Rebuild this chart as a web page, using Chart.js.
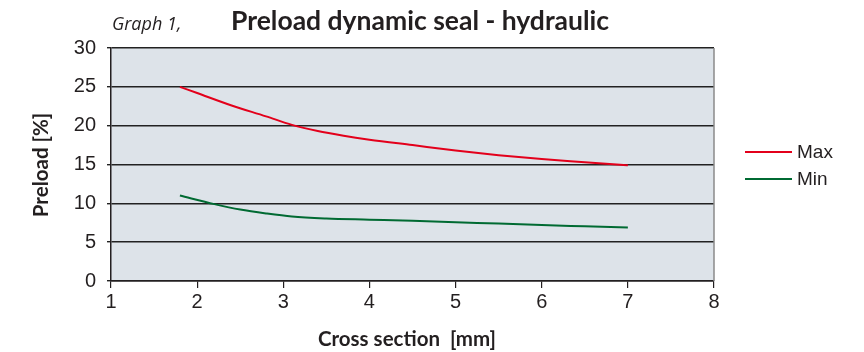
<!DOCTYPE html>
<html>
<head>
<meta charset="utf-8">
<script src="https://cdn.jsdelivr.net/npm/chart.js@4/dist/chart.umd.min.js"></script>
<style>
  html, body { margin: 0; padding: 0; background: #ffffff; }
  #wrap { position: relative; width: 864px; height: 352px; }
</style>
</head>
<body>
<div id="wrap"><canvas id="c" width="864" height="352"></canvas></div>
<script>
// Cross section [mm] and preload [%] for the dynamic hydraulic seal
const maxCrossSection = [1.8, 2.0, 2.4, 2.8, 3.1, 3.4, 3.7, 4.0, 4.5, 5.0, 5.5, 6.0, 6.5, 7.0];
const maxPreload      = [25.0, 24.2, 22.6, 21.2, 20.1, 19.3, 18.7, 18.2, 17.5, 16.8, 16.2, 15.7, 15.3, 14.9];

const minCrossSection = [1.8, 2.2, 2.5, 2.8, 3.1, 3.5, 4.0, 4.5, 5.0, 5.5, 6.0, 6.5, 7.0];
const minPreload      = [11.0, 9.9, 9.2, 8.7, 8.3, 8.05, 7.9, 7.75, 7.55, 7.4, 7.2, 7.05, 6.9];

const seriesNames = ['Max', 'Min'];
const xTicks = [1, 2, 3, 4, 5, 6, 7, 8];
const yTicks = [0, 5, 10, 15, 20, 25, 30];

const titleText = 'Preload dynamic seal - hydraulic';
const captionText = 'Graph 1,';
const xTitleText = 'Cross section  [mm]';
const yTitleText = 'Preload [%]';

const toPoints = (xs, ys) => xs.map((x, i) => ({ x: x, y: ys[i] }));

const TICK_FONT = { family: '"Liberation Sans", Arial, sans-serif', size: 20 };
const INK = '#231f20';

// Plot background, frame, titles and legend
const decorations = {
  id: 'decorations',
  beforeDraw(chart) {
    const { ctx, chartArea: a } = chart;
    ctx.save();
    ctx.fillStyle = '#dde3e9';
    ctx.fillRect(a.left, a.top, a.right - a.left, a.bottom - a.top);
    ctx.restore();
  },
  afterDraw(chart) {
    const { ctx, chartArea: a } = chart;
    ctx.save();
    // right frame edge
    ctx.strokeStyle = '#8a8a8a';
    ctx.lineWidth = 1.5;
    ctx.beginPath();
    ctx.moveTo(a.right, a.top);
    ctx.lineTo(a.right, a.bottom);
    ctx.stroke();

    ctx.fillStyle = INK;
    ctx.textBaseline = 'alphabetic';
    // caption + main title
    ctx.font = 'italic 18px "Open Sans", sans-serif';
    ctx.textAlign = 'left';
    ctx.fillText(captionText, 112, 30);
    ctx.font = 'bold 26.5px Lato, sans-serif';
    ctx.fillText(titleText, 231, 30);

    // x axis title
    ctx.font = 'bold 20.5px Lato, sans-serif';
    ctx.textAlign = 'center';
    ctx.fillText(xTitleText, 407, 346);

    // y axis title
    ctx.save();
    ctx.translate(48, 165);
    ctx.rotate(-Math.PI / 2);
    ctx.fillText(yTitleText, 0, 0);
    ctx.restore();

    // legend
    ctx.textAlign = 'left';
    ctx.textBaseline = 'middle';
    ctx.font = '19px "Liberation Sans", Arial, sans-serif';
    chart.data.datasets.forEach((ds, i) => {
      const y = 152 + i * 27;
      ctx.strokeStyle = ds.borderColor;
      ctx.lineWidth = 2;
      ctx.beginPath();
      ctx.moveTo(745, y);
      ctx.lineTo(792, y);
      ctx.stroke();
      ctx.fillStyle = INK;
      ctx.fillText(ds.label, 797, y + 1);
    });
    ctx.restore();
  }
};

new Chart(document.getElementById('c'), {
  type: 'line',
  data: {
    datasets: [
      {
        label: seriesNames[0],
        data: toPoints(maxCrossSection, maxPreload),
        borderColor: '#e3001b',
        borderWidth: 2,
        pointRadius: 0,
        cubicInterpolationMode: 'monotone',
        fill: false
      },
      {
        label: seriesNames[1],
        data: toPoints(minCrossSection, minPreload),
        borderColor: '#006a32',
        borderWidth: 2,
        pointRadius: 0,
        cubicInterpolationMode: 'monotone',
        fill: false
      }
    ]
  },
  options: {
    responsive: false,
    animation: false,
    devicePixelRatio: 1,
    layout: { padding: { top: 48, right: 150, left: 0, bottom: 0 } },
    plugins: {
      legend: { display: false },
      title: { display: false },
      tooltip: { enabled: false }
    },
    scales: {
      x: {
        type: 'linear',
        min: xTicks[0],
        max: xTicks[xTicks.length - 1],
        afterBuildTicks: (s) => { s.ticks = xTicks.map(v => ({ value: v })); },
        afterFit: (s) => { s.height = 71; },
        ticks: { font: TICK_FONT, color: INK, padding: 2, maxRotation: 0 },
        grid: { drawOnChartArea: false, drawTicks: true, tickLength: 7, color: INK, lineWidth: 1.2 },
        border: { color: INK, width: 1.5 }
      },
      y: {
        min: yTicks[0],
        max: yTicks[yTicks.length - 1],
        afterBuildTicks: (s) => { s.ticks = yTicks.map(v => ({ value: v })); },
        afterFit: (s) => { s.width = 111; },
        ticks: { font: TICK_FONT, color: INK, padding: 11 },
        grid: { color: '#222222', lineWidth: 1.4, tickLength: 4, drawTicks: true },
        border: { color: INK, width: 1.5 }
      }
    }
  },
  plugins: [decorations]
});
</script>
</body>
</html>
